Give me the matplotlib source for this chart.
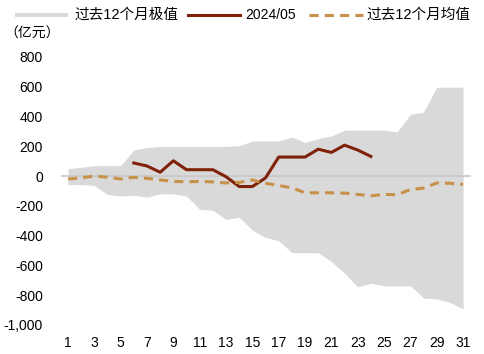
import matplotlib
matplotlib.use("Agg")
import matplotlib.pyplot as plt
from matplotlib.patches import Rectangle
from matplotlib.lines import Line2D

plt.rcParams['font.family'] = ['Liberation Sans', 'Noto Sans CJK SC', 'DejaVu Sans']

days = list(range(1, 32))
band_upper = [50, 59, 70, 70, 70, 175, 192, 199, 199, 199, 199, 199, 199, 205, 235,
              237, 237, 263, 225, 252, 270, 308, 308, 308, 308, 297, 415, 430, 597, 597, 597]
band_lower = [-57, -57, -63, -123, -134, -128, -141, -119, -119, -134, -223, -230, -290, -277, -363,
              -412, -434, -514, -514, -514, -574, -652, -745, -719, -737, -737, -737, -819, -825, -848, -892]
may_days = list(range(6, 25))
may_values = [88, 68, 26, 103, 43, 43, 43, -4, -70, -70, -12, 128, 128, 128, 181, 159, 208, 175, 132]
avg_values = [-19, -12, 1, -8, -19, -8, -15, -26, -35, -39, -35, -39, -46, -42, -26,
              -48, -63, -79, -112, -112, -112, -114, -123, -132, -123, -125, -90, -81, -46, -48, -55]
xticks = list(range(1, 32, 2))
yticks = [-1000, -800, -600, -400, -200, 0, 200, 400, 600, 800]
legend_labels = ['过去12个月极值', '2024/05', '过去12个月均值']

W, H = 485, 354
fig = plt.figure(figsize=(W / 100, H / 100), dpi=100)
ax = fig.add_axes([61/W, 1-325/H, (471-61)/W, (325-57)/H])

GRAY = '#d9d9d9'
RED = '#7f2208'
GOLD = '#c8914a'

ax.fill_between(days, band_lower, band_upper, color=GRAY, linewidth=0)
ax.axhline(0, color='#c8c8c8', linewidth=1.2, zorder=1)
ax.plot(may_days, may_values, color=RED, linewidth=2.2, zorder=3)
ax.plot(days, avg_values, color=GOLD, linewidth=2.2, linestyle=(0, (3, 2)), zorder=3)

ax.set_xlim(0.47, 31.6)
ax.set_ylim(-1000, 800)
ax.set_xticks(xticks)
ax.set_yticks(yticks)
ax.set_yticklabels([f"{v:,}" for v in yticks])
for s in ax.spines.values():
    s.set_visible(False)
ax.tick_params(length=0, labelsize=10, colors='#000000')
ax.tick_params(axis='y', pad=13)
ax.tick_params(axis='x', pad=8)

def fx(px):
    return px / W

def fy(py):
    return 1 - py / H

fig.text(fx(4), fy(34), '（亿元）', fontsize=10, va='center', ha='left',
         family=['Noto Sans CJK SC', 'DejaVu Sans'])

# legend, placed manually
ly = 15
fig.patches.append(Rectangle((fx(15), fy(17)), fx(68) - fx(15), fy(13) - fy(17),
                             transform=fig.transFigure, facecolor=GRAY, edgecolor='none'))
fig.text(fx(74), fy(ly), legend_labels[0], fontsize=10.5, va='center', ha='left')
fig.lines.append(Line2D([fx(188), fx(240)], [fy(ly), fy(ly)], transform=fig.transFigure,
                        color=RED, linewidth=2.2))
fig.text(fx(245), fy(ly), legend_labels[1], fontsize=10, va='center', ha='left')
fig.lines.append(Line2D([fx(309), fx(363)], [fy(ly), fy(ly)], transform=fig.transFigure,
                        color=GOLD, linewidth=2.2, linestyle=(0, (3, 2))))
fig.text(fx(366), fy(ly), legend_labels[2], fontsize=10.5, va='center', ha='left')

fig.savefig('out.png', dpi=100)
